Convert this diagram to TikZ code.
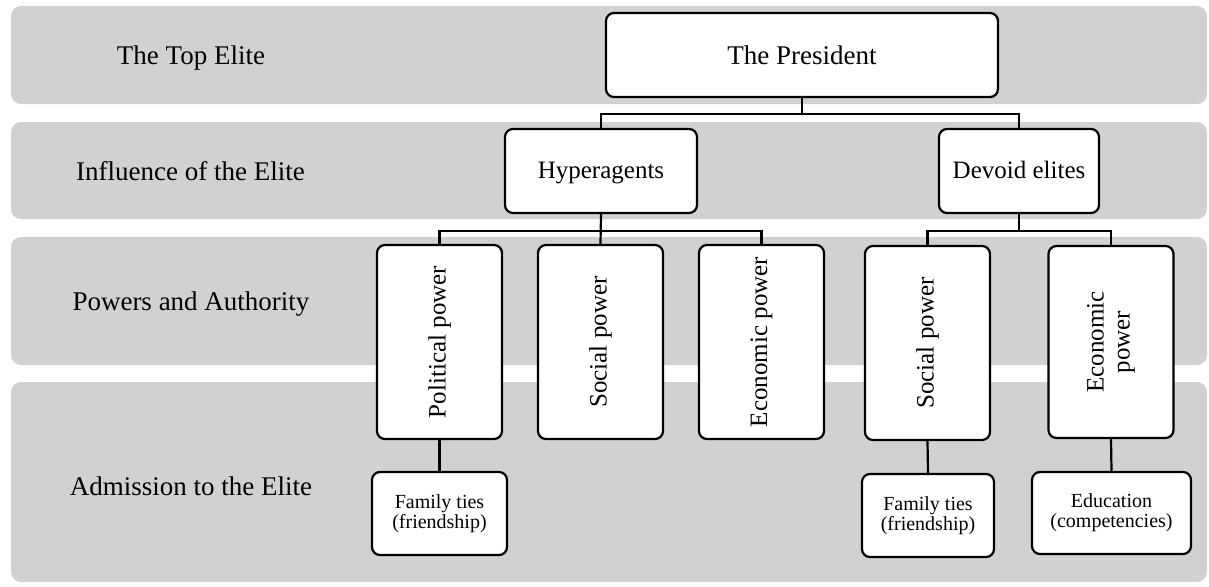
\documentclass[tikz,border=0pt]{standalone}
\usepackage{fontspec}
\setmainfont{Liberation Serif}
\begin{document}
\begin{tikzpicture}[x=1pt,y=-1pt,
  band/.style={fill=bandgray, draw=none, rounded corners=10pt},
  bandlabel/.style={anchor=base, font=\fontsize{27}{32}\selectfont, inner sep=0pt},
  box/.style={draw=black, fill=white, line width=2.2pt, rounded corners=8pt, inner sep=0pt, align=center},
  hbox/.style={box, minimum height=84pt, text height=20pt, text depth=5pt},
  vbox/.style={box, minimum width=125pt, minimum height=194pt, font=\fontsize{25}{28}\selectfont},
  smallbox/.style={box, minimum height=83pt, font=\fontsize{20}{22}\selectfont},
  conn/.style={line width=2.2pt}
]
\definecolor{bandgray}{HTML}{D1D1D1}
\useasboundingbox (0,0) rectangle (1209,586);

% bands
\fill[band] (11,6) rectangle (1207,104);
\fill[band] (11,122) rectangle (1207,219);
\fill[band] (11,237) rectangle (1207,365);
\fill[band] (11,382) rectangle (1207,582);

% band labels
\node[bandlabel] (l1) at (191,64) {The Top Elite};
\node[bandlabel] (l2) at (190.5,180) {Influence of the Elite};
\node[bandlabel] (l3) at (191,310) {Powers and Authority};
\node[bandlabel] (l4) at (191,495) {Admission to the Elite};

% boxes
\node[hbox, minimum width=392pt, text depth=1pt, font=\fontsize{27}{32}\selectfont] (pres) at (802,55) {The President};
\node[hbox, minimum width=192pt, font=\fontsize{25}{28}\selectfont] (hyp) at (601,171) {Hyperagents};
\node[hbox, minimum width=160pt, font=\fontsize{25}{28}\selectfont] (dev) at (1019,171) {Devoid elites};

\node[vbox] (pol) at (439.5,342) {\rotatebox{90}{Political power}};
\node[vbox] (soc1) at (600.5,342) {\rotatebox{90}{Social power}};
\node[vbox] (eco1) at (761.5,342) {\rotatebox{90}{Economic power}};
\node[vbox] (soc2) at (927.5,343) {\rotatebox{90}{Social power}};
\node[vbox, minimum height=192pt] (eco2) at (1111,342) {\rotatebox{90}{\begin{tabular}{@{}c@{}}Economic\\[-2pt] power\end{tabular}}};

\node[smallbox, minimum width=135pt] (fam1) at (439.5,513.5) {Family ties\\[-2pt](friendship)};
\node[smallbox, minimum width=132pt] (fam2) at (928,515.5) {Family ties\\[-2pt](friendship)};
\node[smallbox, minimum width=159pt, minimum height=82pt] (edu) at (1111.5,513) {Education\\[-2pt](competencies)};

% connectors
\draw[conn] (pres.south) -- ++(0,16) -| (hyp.north);
\draw[conn] (pres.south) -- ++(0,16) -| (dev.north);
\draw[conn] (hyp.south) -- ++(0,17) -| (pol.north);
\draw[conn] (hyp.south) -- (soc1.north);
\draw[conn] (hyp.south) -- ++(0,17) -| (eco1.north);
\draw[conn] (dev.south) -- ++(0,17) -| (soc2.north);
\draw[conn] (dev.south) -- ++(0,17) -| (eco2.north);
\draw[conn] (pol.south) -- (fam1.north);
\draw[conn] (soc2.south) -- (fam2.north);
\draw[conn] (eco2.south) -- (edu.north);
\end{tikzpicture}
\end{document}
